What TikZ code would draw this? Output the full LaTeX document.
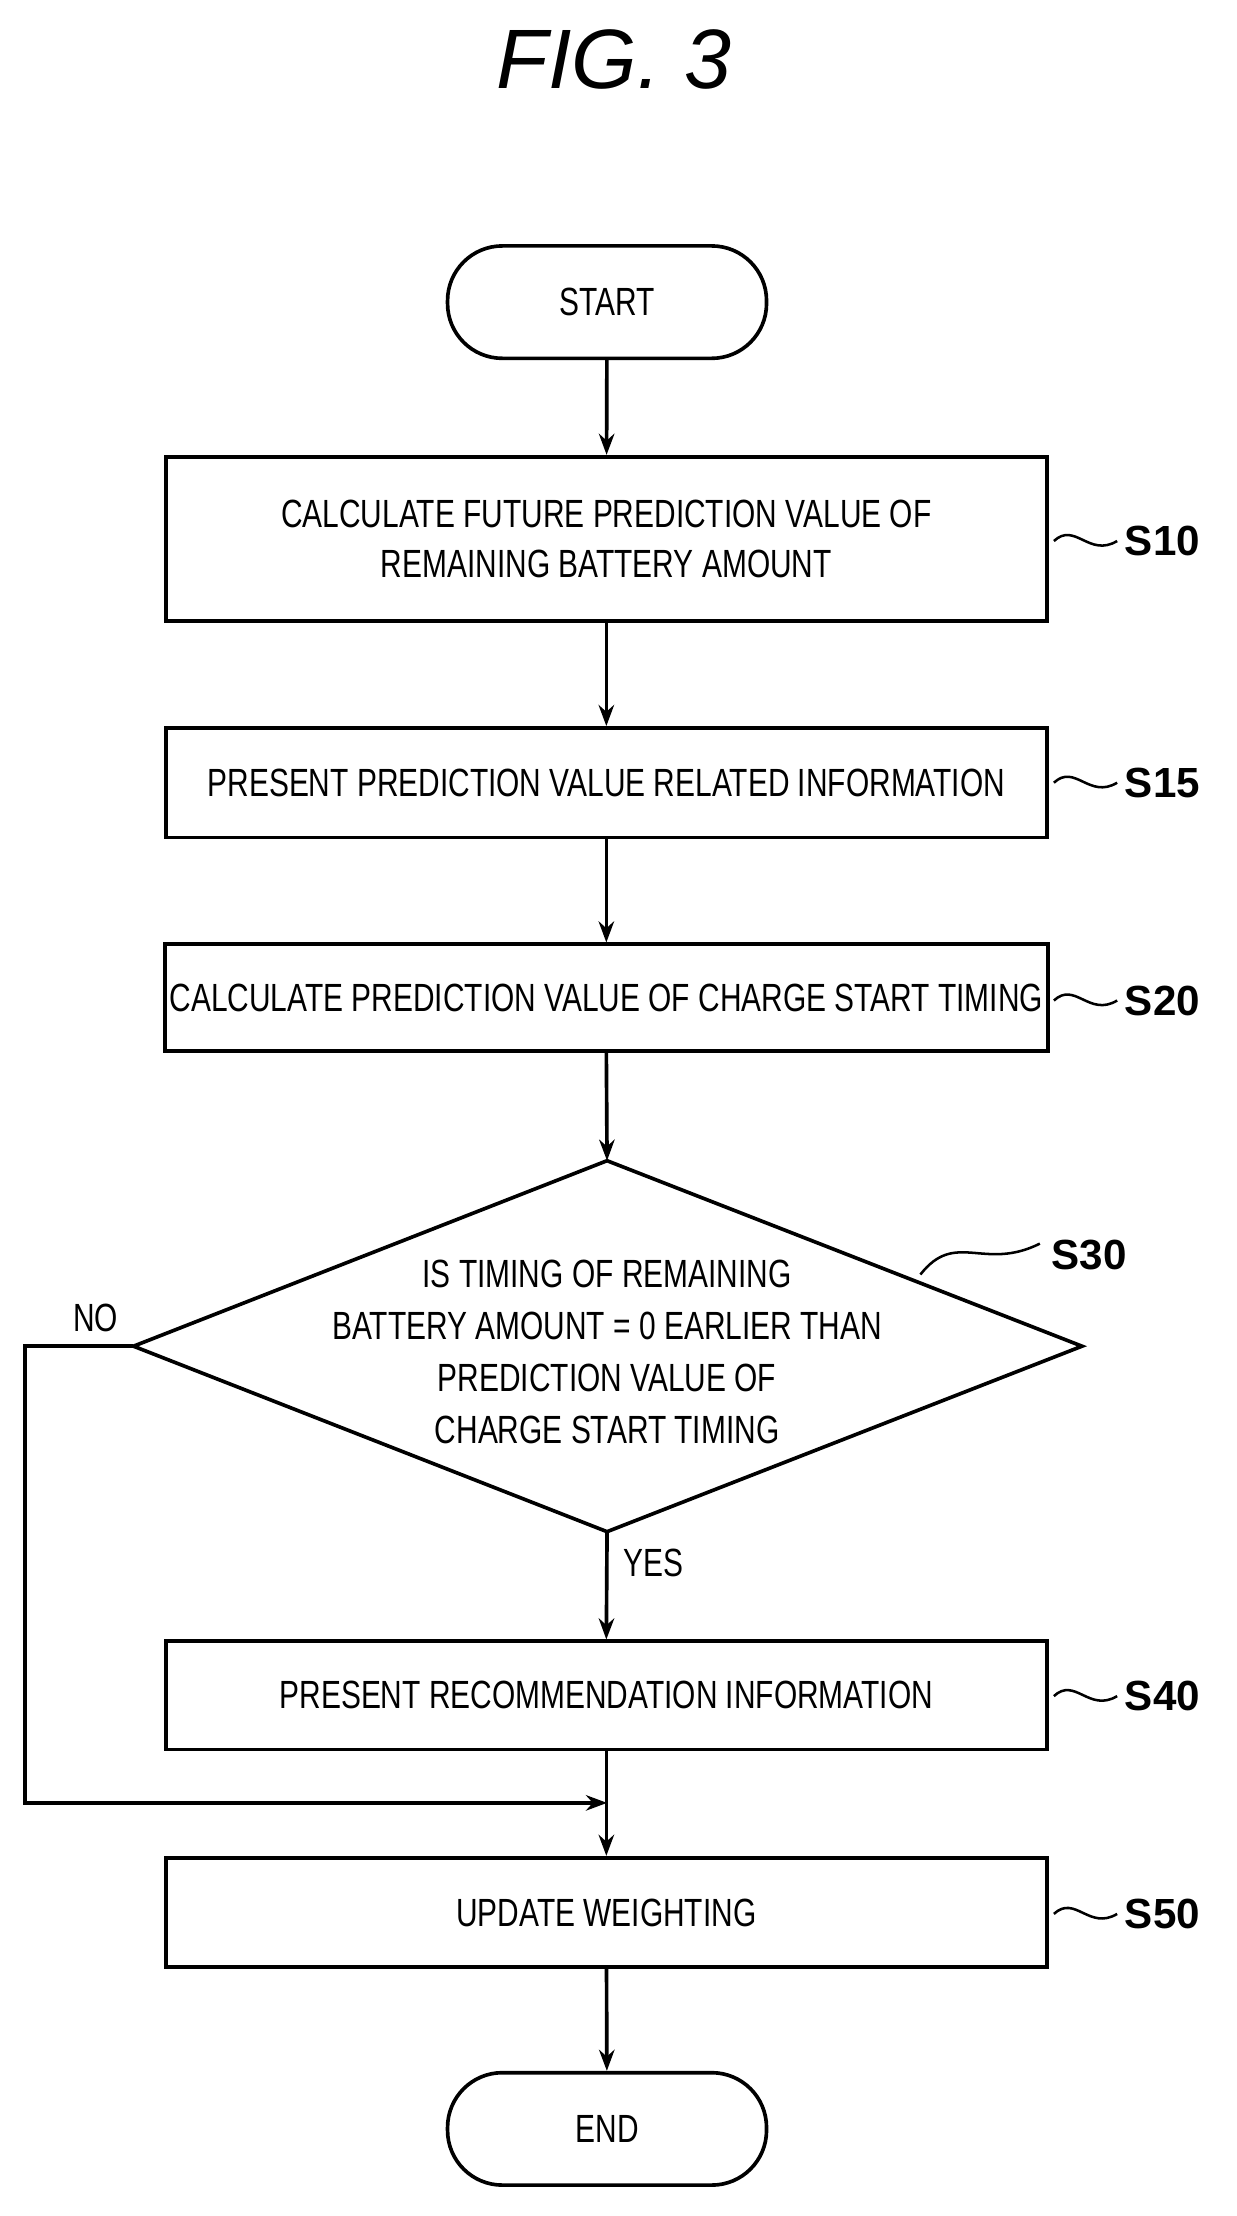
\documentclass[tikz,border=0pt]{standalone}
\usepackage{fontspec}
\setmainfont{Liberation Sans}[FakeStretch=0.76]
\newfontfamily\lab{Liberation Sans}
\usetikzlibrary{arrows.meta}
\begin{document}
\begin{tikzpicture}[x=1pt,y=-1pt,
  box/.style={draw,line width=2.6pt,minimum width=627pt,minimum height=77pt,align=center,font=\fontsize{28}{36}\selectfont},
  term/.style={draw,line width=2.6pt,rounded corners=39pt,minimum width=227pt,minimum height=80pt,font=\fontsize{28}{36}\selectfont},
  arr/.style={line width=2.6pt,-{Stealth[length=15pt,width=11pt]}},
  steplab/.style={font=\lab\bfseries\fontsize{30}{32}\selectfont,anchor=west},
  sq/.style={line width=1.8pt}]
\useasboundingbox (0,0) rectangle (880,1577);
\node[font=\lab\itshape\fontsize{60}{62}\selectfont] (title) at (437,42) {FIG. 3};
\node[term] (start) at (432,215) {START};
\node[box,minimum height=117pt] (s10) at (431.5,383.5) {CALCULATE FUTURE PREDICTION VALUE OF\\REMAINING BATTERY AMOUNT};
\node[box,minimum height=78pt] (s15) at (431.5,557) {PRESENT PREDICTION VALUE RELATED INFORMATION};
\node[box,minimum height=76pt] (s20) at (431.5,710) {CALCULATE PREDICTION VALUE OF CHARGE START TIMING};
\coordinate (dt) at (432,826); \coordinate (dl) at (95,958);
\coordinate (dr) at (770,958); \coordinate (db) at (432,1090);
\draw[line width=2.6pt] (dt)--(dr)--(db)--(dl)--cycle;
\node[align=center,font=\fontsize{28}{37}\selectfont] (s30) at (432,962) {IS TIMING OF REMAINING\\BATTERY AMOUNT = 0 EARLIER THAN\\PREDICTION VALUE OF\\CHARGE START TIMING};
\node[box,minimum height=77pt] (s40) at (431.5,1206.5) {PRESENT RECOMMENDATION INFORMATION};
\node[box,minimum height=78pt] (s50) at (431.5,1361) {UPDATE WEIGHTING};
\node[term] (end) at (432,1515) {END};
\draw[arr] (start)--(s10);
\draw[arr] (s10)--(s15);
\draw[arr] (s15)--(s20);
\draw[arr] (s20.south)--(dt);
\draw[arr] (db)--(s40.north);
\draw[arr] (s40)--(s50);
\draw[arr] (s50)--(end);
\coordinate (m) at (432,1283);
\draw[arr] (dl)--(18,958)--(18,1283)--(m);
\node[font=\fontsize{28}{36}\selectfont] (no) at (68,938) {NO};
\node[font=\fontsize{28}{36}\selectfont] (yes) at (465,1112) {YES};
\foreach \t/\y in {S10/385,S15/557,S20/712,S40/1207,S50/1362}{
  \draw[sq] (750,\y) .. controls (765,\y-14) and (775,\y+12) .. (795,\y);
  \node[steplab] at (797,\y) {\t};}
\draw[sq] (655,907) .. controls (680,875) and (700,905) .. (740,885);
\node[steplab] (l30) at (745,893) {S30};
\end{tikzpicture}
\end{document}
